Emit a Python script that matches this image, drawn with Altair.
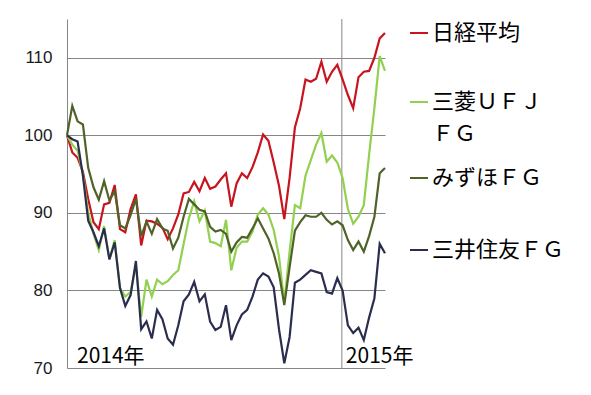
import altair as alt
import pandas as pd

# Weekly points, Jan 2014 - Feb 2015 (index, start = 100)
dates = pd.date_range("2014-01-03", periods=61, freq="7D")

nikkei = [100, 97.8, 97.1, 95.3, 91.8, 88.8, 87.9, 91.1, 91.3, 93.6,
          87.9, 87.5, 90.5, 92.4, 85.8, 89.0, 88.9, 88.6, 88.1, 86.6,
          88.0, 89.8, 92.5, 92.7, 94.0, 92.8, 94.5, 93.1, 93.4, 94.3,
          95.1, 90.8, 93.8, 95.1, 94.5, 95.9, 97.8, 100.1, 99.3, 96.5,
          93.5, 89.2, 94.5, 101.0, 103.5, 107.2, 106.9, 107.3, 109.5, 106.9,
          108.2, 109.1, 107.2, 105.2, 103.5, 107.5, 108.2, 108.3, 110.0, 112.5,
          113.2]
mufg = [100, 98.8, 98.0, 95.0, 90.0, 87.3, 85.2, 88.3, 84.0, 86.5,
        80.3, 79.2, 79.8, 83.2, 76.6, 81.4, 79.2, 81.4, 80.8, 81.2,
        82.0, 82.6, 86.0, 89.3, 91.5, 88.9, 90.3, 86.3, 86.1, 85.7,
        89.1, 82.6, 85.5, 86.3, 86.3, 87.6, 89.8, 90.6, 89.8, 87.8,
        84.4, 78.4, 85.0, 91.0, 90.6, 94.8, 96.8, 98.8, 100.3, 96.6,
        97.4, 96.5, 94.5, 90.5, 88.6, 89.5, 91.0, 97.5, 103.5, 110.2,
        108.3]
mizuho = [100, 103.8, 101.8, 101.4, 95.8, 93.3, 91.7, 94.1, 91.6, 92.8,
          88.4, 88.0, 89.7, 91.8, 87.0, 88.9, 87.3, 89.2, 88.0, 87.7,
          85.4, 86.8, 89.5, 91.8, 91.1, 90.4, 90.2, 88.2, 87.6, 87.8,
          87.3, 85.0, 86.2, 86.9, 86.8, 88.0, 89.3, 88.0, 86.7, 84.8,
          82.2, 78.1, 83.0, 87.7, 88.8, 89.7, 89.5, 89.5, 90.0, 89.1,
          88.5, 88.9, 88.4, 86.5, 85.2, 86.3, 85.0, 87.0, 89.5, 95.1,
          95.8]
smfg = [100, 99.5, 99.2, 94.8, 89.0, 87.5, 85.7, 88.0, 84.0, 86.2,
        80.3, 78.0, 79.4, 83.8, 75.0, 76.0, 73.8, 77.5, 76.3, 73.8,
        73.0, 75.5, 78.6, 79.5, 81.1, 78.6, 79.5, 76.0, 74.9, 75.3,
        78.1, 73.6, 75.5, 76.9, 77.5, 79.2, 81.4, 82.2, 81.8, 80.4,
        75.0, 70.6, 74.0, 81.0, 81.4, 82.0, 82.6, 82.4, 82.2, 79.8,
        79.6, 81.6, 80.0, 75.5, 74.5, 75.2, 73.6, 76.5, 79.0, 86.0,
        84.8]

series_names = ["日経平均", "三菱ＵＦＪＦＧ", "みずほＦＧ", "三井住友ＦＧ"]
series_values = [nikkei, mufg, mizuho, smfg]
series_colors = ["#C8141E", "#92D050", "#4F6228", "#2B2D4E"]
legend_lines = [["日経平均"], ["三菱ＵＦＪ", "ＦＧ"], ["みずほＦＧ"], ["三井住友ＦＧ"]]
legend_y = [14, 83, 159, 231]

y_ticks = [70, 80, 90, 100, 110]
year_labels = ["2014年", "2015年"]
year_dates = [pd.Timestamp("2014-01-03"), pd.Timestamp("2015-01-01")]

GRID = "#868686"
JP_FONT = "Noto Sans CJK JP"

rows = []
for name, vals in zip(series_names, series_values):
    for d, v in zip(dates, vals):
        rows.append({"date": d, "series": name, "value": v})
df = pd.DataFrame(rows)

x_enc = alt.X("date:T", scale=alt.Scale(nice=False, padding=0), axis=None)
y_enc = alt.Y(
    "value:Q",
    scale=alt.Scale(domain=[70, 115], nice=False, zero=False),
    axis=alt.Axis(values=y_ticks, title=None, ticks=False, grid=True,
                  gridColor=GRID, gridWidth=1, gridOpacity=1,
                  domain=True, domainColor=GRID, domainWidth=1,
                  labelFont="Liberation Sans", labelFontSize=17,
                  labelColor="#1a1a1a", labelPadding=15),
)

base = alt.Chart(df)
layers = []
for name, color in zip(series_names, series_colors):
    layers.append(
        base.transform_filter(alt.datum.series == name)
        .mark_line(color=color, strokeWidth=2.2, strokeJoin="miter")
        .encode(x=x_enc, y=y_enc)
    )

rule_df = pd.DataFrame({"date": [year_dates[1]]})
year_rule = alt.Chart(rule_df).mark_rule(color=GRID, strokeWidth=1).encode(x=x_enc)

yr_df0 = pd.DataFrame({"date": [year_dates[0]], "value": [70], "label": [year_labels[0]]})
yr_df1 = pd.DataFrame({"date": [year_dates[1]], "value": [70], "label": [year_labels[1]]})
yr0 = alt.Chart(yr_df0).mark_text(align="left", baseline="bottom", dx=10, dy=-1,
                                   font=JP_FONT, fontSize=21, color="#000000").encode(
    x=x_enc, y=y_enc, text="label:N")
yr1 = alt.Chart(yr_df1).mark_text(align="left", baseline="bottom", dx=4, dy=-1,
                                   font=JP_FONT, fontSize=21, color="#000000").encode(
    x=x_enc, y=y_enc, text="label:N")

legend_layers = []
for lines, color, ly in zip(legend_lines, series_colors, legend_y):
    legend_layers.append(
        alt.Chart(rule_df).mark_rule(color=color, strokeWidth=2).encode(
            x=alt.value(343), x2=alt.value(361), y=alt.value(ly))
    )
    for k, line in enumerate(lines):
        legend_layers.append(
            alt.Chart(rule_df).mark_text(align="left", baseline="middle",
                                         font=JP_FONT, fontSize=22, color="#000000").encode(
                x=alt.value(365), y=alt.value(ly + 32 * k), text=alt.value(line))
        )

chart = alt.layer(year_rule, *layers, yr0, yr1, *legend_layers).properties(
    width=318, height=349,
    autosize="none",
    padding={"left": 67, "top": 19, "right": 206, "bottom": 27},
    background="white",
).configure_view(strokeWidth=0)

chart.save("out.html", embed_options={"renderer": "svg", "actions": False})
